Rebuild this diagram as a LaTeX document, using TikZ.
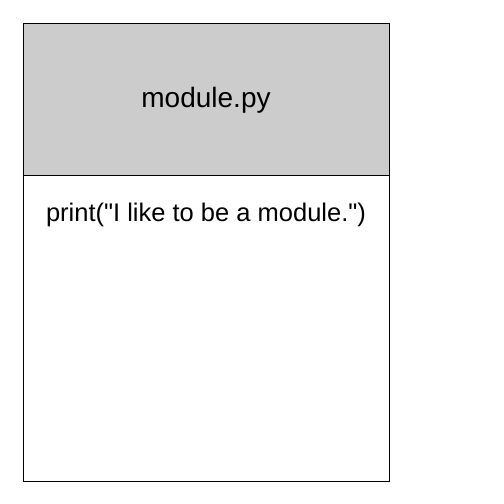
\documentclass[tikz,border=0pt]{standalone}
\usepackage{fontspec}
\setmainfont{Liberation Sans}
\definecolor{headergray}{HTML}{CCCCCC}
\tikzset{
  frame/.style={draw=black, line width=1pt},
  title/.style={font=\fontsize{28}{32}\selectfont, text=black},
  code/.style={font=\fontsize{25.5}{30}\selectfont, text=black}
}
\begin{document}
\begin{tikzpicture}[x=1pt,y=-1pt]
  \useasboundingbox (0,0) rectangle (504,504);
  % module box: grey header and white body
  \fill[headergray] (23,23) rectangle (389,175);
  \draw[frame] (23,23) rectangle (389,481);
  \draw[frame] (23,175) -- (389,175);
  \node[title] (name) at (206,100) {module.py};
  \node[code] (body) at (206,215) {print(\textquotedbl I like to be a module.\textquotedbl)};
\end{tikzpicture}
\end{document}
